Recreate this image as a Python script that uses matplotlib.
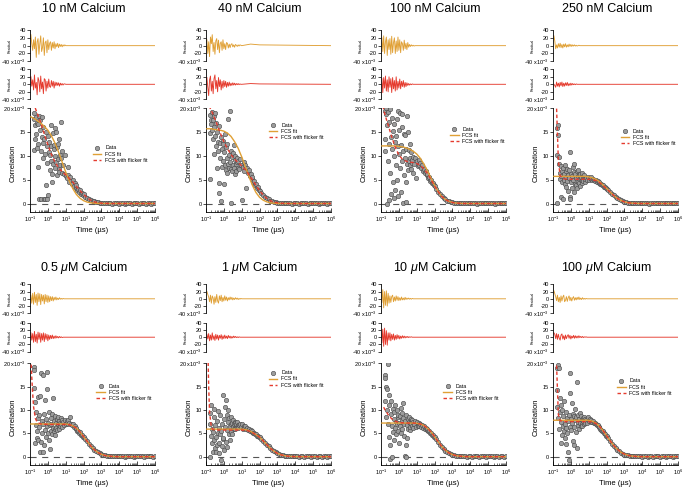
import numpy as np
import matplotlib.pyplot as plt
from matplotlib.lines import Line2D
from matplotlib.ticker import LogLocator, NullFormatter

plt.rcParams["font.family"] = ["Liberation Sans", "DejaVu Sans"]
plt.rcParams["mathtext.fontset"] = "custom"
plt.rcParams["mathtext.rm"] = "Liberation Sans"
plt.rcParams["mathtext.it"] = "Liberation Sans:italic"
plt.rcParams["mathtext.bf"] = "Liberation Sans:bold"

nan = float("nan")

# === x grids: log10 of lag time (us) ===
LAG_LOG = [
    -0.8, -0.775, -0.75, -0.725, -0.7,
    -0.675, -0.65, -0.625, -0.6, -0.575,
    -0.55, -0.525, -0.5, -0.475, -0.45,
    -0.425, -0.4, -0.375, -0.35, -0.325,
    -0.3, -0.275, -0.25, -0.225, -0.2,
    -0.175, -0.15, -0.125, -0.1, -0.075,
    -0.05, -0.025, 0.0, 0.025, 0.05,
    0.075, 0.1, 0.125, 0.15, 0.175,
    0.2, 0.225, 0.25, 0.275, 0.3,
    0.325, 0.35, 0.375, 0.4, 0.425,
    0.45, 0.475, 0.5, 0.525, 0.55,
    0.575, 0.6, 0.625, 0.65, 0.675,
    0.7, 0.725, 0.75, 0.775, 0.8,
    0.85, 0.9, 0.95, 1.0, 1.05, 1.1,
    1.15, 1.2, 1.25, 1.3, 1.35, 1.4,
    1.45, 1.5, 1.55, 1.6, 1.65, 1.7,
    1.75, 1.8, 1.85, 1.9, 1.95, 2.0,
    2.1, 2.2, 2.3, 2.4, 2.5, 2.6, 2.7, 2.8, 2.9, 3.0,
    3.1, 3.2, 3.3, 3.4, 3.5, 3.6, 3.7, 3.8, 3.9, 4.0,
    4.1, 4.2, 4.3, 4.4, 4.5, 4.6, 4.7, 4.8, 4.9, 5.0,
    5.1, 5.2, 5.3, 5.4, 5.5, 5.6, 5.7, 5.8, 5.9, 6.0,
]
FIT_LOG = [-0.95, -0.9, -0.85, -0.8, -0.7, -0.6, -0.4, -0.2, 0.0, 0.2, 0.4,
           0.6, 0.8, 1.0, 1.2, 1.4, 1.6, 1.8, 2.0, 2.2, 2.4, 2.6, 2.8, 3.0,
           3.2, 3.4, 3.6, 3.8, 4.0, 5.0, 6.0]
RES_LOG = [-0.95, -0.9, -0.85, -0.8, -0.75, -0.7, -0.65, -0.6, -0.55, -0.5,
           -0.45, -0.4, -0.35, -0.3, -0.25, -0.2, -0.15, -0.1, -0.05, 0.0,
           0.05, 0.1, 0.15, 0.2, 0.25, 0.3, 0.35, 0.4, 0.45, 0.5,
           0.55, 0.6, 0.65, 0.7, 0.75, 0.8, 0.85, 0.9, 0.95, 1.0,
           1.5, 2.0, 6.0]

TITLES = ["10 nM Calcium", "40 nM Calcium", "100 nM Calcium", "250 nM Calcium",
          "0.5 $\\mu$M Calcium", "1 $\\mu$M Calcium", "10 $\\mu$M Calcium",
          "100 $\\mu$M Calcium"]

# === correlation data (x1e-3) ===
D_10NM = [
    11.2, 17.8, 19.0, 13.6, 16.5, 14.7, 18.1, 11.7, 17.0, 7.7,
    16.8, 12.5, 18.3, 1.0, 15.5, 17.5, 11.0, 1.0, 18.1, 14.0,
    12.8, 16.0, 9.5, 1.0, 13.5, 10.5, 1.0, 15.0, 3.9, 12.0,
    1.0, 8.5, 1.8, 14.2, 10.8, 13.0, 7.0, 10.1, 16.5, 9.0,
    12.0, 6.2, 4.6, 14.8, 8.2, 11.5, 12.2, 7.5, 15.8, 10.0,
    15.0, 8.8, 11.8, 6.0, 9.4, 12.5, 7.2, 13.6, 6.7, 10.2,
    8.0, 17.2, 9.5, 6.4, 11.0,
    8.1, 6.2, 10.1, 5.8, 5.3, 7.6, 6.0, 4.6, 5.6, 4.8, 4.0, 5.0,
    3.7, 4.3, 3.2, 3.8, 2.9, 3.1, 2.4, 2.8, 2.1, 2.3, 1.7, 1.9,
    1.4, 1.2, 0.9, 0.8, 0.55, 0.45, 0.3, 0.3, 0.2, 0.15,
    0.1, 0.15, 0.05, 0.1, 0.1, 0.0, 0.1, 0.05, 0.1, 0.0,
    0.1, 0.05, 0.0, 0.1, 0.05, 0.1, 0.0, 0.05, 0.1, 0.05,
    0.0, 0.1, 0.05, 0.1, 0.0, 0.05, 0.1, 0.0, 0.05, 0.1,
]
D_40NM = [
    5.1, 18.5, 14.8, 17.6, 16.8, 19.2, 15.5, 17.5, 13.6, 18.3,
    16.0, 10.5, 19.0, 14.2, 12.0, 17.0, 7.5, 15.0, 13.0, 11.0,
    4.4, 16.2, 2.3, 12.8, 9.5, 14.0, 0.6, 11.5, 7.7, 13.2,
    9.0, 12.5, 4.0, 10.8, 8.0, 14.5, 7.0, 11.8, 9.6, 6.5,
    12.4, 8.4, 17.8, 7.5, 10.2, 19.5, 8.8, 0.2, 11.0, 7.3,
    9.8, 6.8, 10.7, 8.0, 12.2, 7.5, 9.1, 6.3, 10.0, 8.2,
    6.9, 8.7, 9.5, 7.4, 8.9,
    7.2, 9.3, 8.0, 0.7, 7.6, 8.8, 6.9, 8.1, 3.2, 7.5, 6.4, 7.0,
    5.8, 6.3, 5.2, 5.5, 4.6, 4.7, 3.9, 4.1, 3.3, 3.4, 2.9, 2.7,
    2.2, 1.8, 1.4, 1.1, 0.85, 0.6, 0.45, 0.35, 0.25, 0.2,
    0.15, 0.1, 0.1, 0.05, 0.1, 0.05, 0.1, 0.0, 0.1, 0.05,
    0.1, 0.0, 0.05, 0.1, 0.05, 0.1, 0.0, 0.1, 0.05, 0.1,
    0.05, 0.1, 0.0, 0.1, 0.05, 0.1, 0.05, 0.0, 0.1, 0.05,
]
D_100NM = [
    13.5, 19.5, 11.0, 18.8, 20.0, 0.0, 16.5, 9.0, 19.3, 12.5,
    0.7, 17.2, 19.9, 6.5, 14.0, 2.1, 11.5, 18.0, 4.6, 15.2,
    16.7, 1.1, 10.0, 13.0, 2.8, 14.2, 8.0, 17.7, 5.0, 12.0,
    19.5, 1.5, 10.5, 15.5, 7.5, 19.1, 2.5, 12.3, 9.0, 16.0,
    18.8, 0.1, 11.0, 14.5, 6.0, 9.5, 14.3, 0.4, 11.5, 4.6,
    18.3, 8.3, 15.0, 7.0, 11.2, 9.0, 12.5, 8.0, 9.6, 7.2,
    10.8, 8.5, 9.2, 6.5, 9.7,
    8.4, 9.6, 5.3, 8.9, 7.8, 9.2, 8.0, 8.6, 7.4, 8.0, 6.9, 7.3,
    6.5, 6.9, 5.9, 6.2, 5.4, 5.6, 4.8, 5.0, 4.3, 4.4, 3.8, 3.7,
    3.0, 2.5, 2.0, 1.5, 1.15, 0.85, 0.6, 0.45, 0.3, 0.22,
    0.2, 0.15, 0.1, 0.15, 0.1, 0.05, 0.1, 0.1, 0.05, 0.1,
    0.1, 0.05, 0.1, 0.0, 0.1, 0.05, 0.1, 0.1, 0.05, 0.1,
    0.05, 0.1, 0.1, 0.0, 0.1, 0.05, 0.1, 0.05, 0.1, 0.1,
]
D_250NM = [
    0.1, 10.2, 15.8, 14.4, 16.5, 9.8, 8.4, 5.2, 6.5, 7.9,
    1.4, 5.8, 4.6, 6.9, 1.0, 7.4, 5.0, 6.3, 4.2, 8.0,
    5.5, 3.5, 6.8, 4.8, 7.2, 6.0, 2.6, 7.0, 5.3, 1.4,
    1.0, 10.9, 4.5, 6.2, 5.7, 3.3, 7.7, 5.0, 6.6, 2.5,
    8.4, 4.1, 6.3, 3.9, 5.4, 6.9, 3.2, 5.8, 4.6, 7.0,
    4.4, 5.9, 3.6, 6.1, 5.0, 5.5, 4.3, 6.4, 4.9, 5.3,
    4.7, 5.6, 6.0, 4.5, 5.2,
    5.4, 4.9, 5.6, 5.0, 5.3, 5.1, 5.5, 4.9, 5.2, 5.0, 4.8, 5.0,
    4.6, 4.8, 4.4, 4.5, 4.1, 4.2, 3.8, 3.9, 3.5, 3.5, 3.2, 3.1,
    2.8, 2.4, 2.0, 1.7, 1.35, 1.1, 0.85, 0.65, 0.5, 0.35,
    0.3, 0.2, 0.15, 0.15, 0.1, 0.05, 0.1, 0.05, 0.1, 0.05,
    0.1, 0.05, 0.1, 0.0, 0.1, 0.05, 0.1, 0.05, 0.1, 0.05,
    0.05, 0.1, 0.1, 0.05, 0.1, 0.1, 0.05, 0.1, 0.05, 0.1,
]
D_05UM = [
    19.3, 18.6, 14.8, 11.8, 2.9, 9.6, 6.8, 4.0, 5.5, 8.2,
    12.8, 3.5, 6.3, 9.0, 1.0, 13.0, 3.2, 17.9, 5.0, 7.6,
    17.5, 1.1, 6.9, 2.6, 9.2, 12.1, 5.8, 8.0, 4.2, 6.5,
    18.2, 14.6, 7.2, 5.1, 9.5, 3.6, 6.7, 1.6, 8.3, 5.5,
    7.0, 4.8, 9.1, 6.2, 12.5, 5.4, 7.6, 6.0, 8.8, 4.6,
    7.3, 6.1, 8.0, 5.7, 6.9, 8.5, 6.4, 7.7, 5.9, 7.2,
    6.6, 8.2, 7.0, 7.9, 6.3,
    7.4, 6.8, 7.9, 7.1, 7.6, 6.9, 7.8, 7.2, 8.6, 7.0, 6.7, 6.9,
    6.4, 6.5, 6.0, 6.1, 5.6, 5.6, 5.1, 5.2, 4.7, 4.7, 4.3, 4.2,
    3.7, 3.3, 2.8, 2.3, 1.9, 1.5, 1.2, 0.9, 0.7, 0.5,
    0.38, 0.28, 0.2, 0.15, 0.12, 0.1, 0.05, 0.1, 0.05, 0.1,
    0.05, 0.1, 0.0, 0.1, 0.05, 0.1, 0.05, 0.0, 0.1, 0.05,
    0.1, 0.05, 0.1, 0.0, 0.05, 0.1, 0.05, 0.1, 0.0, 0.05,
]
D_1UM = [
    9.3, 7.1, 0.0, 11.1, 4.5, 6.0, 2.9, 1.1, 5.2, 8.4,
    3.6, 10.2, 1.8, 6.8, 4.3, 1.1, 7.6, 2.5, 5.0, 9.8,
    3.0, 6.2, 0.8, 8.9, 4.8, -0.7, 5.5, 2.2, 7.0, 3.7,
    13.2, 4.1, 8.0, 1.4, 10.7, 6.3, 12.1, 3.2, 5.7, 9.0,
    2.1, 7.4, 10.0, 4.9, 8.2, 6.6, 3.5, 7.1, 5.2, 8.6,
    7.3, 4.8, 6.4, 7.8, 5.9, 6.9, 7.5, 6.0, 7.2, 6.5,
    7.0, 6.3, 7.4, 6.8, 6.1,
    6.7, 7.1, 6.3, 6.9, 6.0, 6.6, 6.2, 6.5, 5.9, 6.2, 5.8, 6.0,
    5.6, 5.7, 5.3, 5.4, 5.1, 5.0, 4.8, 4.8, 4.5, 4.5, 4.2, 4.2,
    3.8, 3.4, 3.0, 2.6, 2.2, 1.8, 1.5, 1.2, 0.95, 0.7,
    0.55, 0.4, 0.3, 0.2, 0.15, 0.1, 0.1, 0.05, 0.05, 0.1,
    0.1, 0.0, 0.05, 0.1, 0.0, 0.05, 0.1, 0.05, 0.0, 0.1,
    0.05, 0.0, 0.1, 0.05, 0.0, 0.1, 0.05, 0.0, 0.05, 0.1,
]
D_10UM = [
    17.5, 16.8, 12.0, 8.5, 15.0, 10.0, 14.6, 7.0, 19.8, 13.2,
    4.3, 11.1, 2.5, -0.6, 9.2, 12.0, 6.5, 0.0, 10.2, 5.3,
    8.0, 3.6, 9.6, 6.2, 11.0, 7.4, 4.8, 10.0, 6.9, 8.5,
    5.6, 9.0, 7.2, 3.0, 8.8, 6.5, 10.5, 5.0, 7.9, 9.3,
    6.0, 11.4, 8.2, 4.4, 7.0, 0.1, 7.6, 0.0, 9.0, 2.5,
    6.8, 3.9, 8.1, 6.0, 7.5, 8.6, 5.8, 7.3, 6.4, 8.0,
    7.1, 6.5, 7.8, 6.2, 7.4,
    6.9, 7.7, 6.3, 7.4, 6.6, 7.2, 6.5, 7.0, 6.4, 6.8, 6.2, 6.5,
    6.0, 6.2, 5.8, 5.9, 5.5, 5.5, 5.1, 5.1, 4.7, 4.7, 4.3, 4.2,
    3.7, 3.1, 2.6, 2.1, 1.7, 1.3, 1.0, 0.75, 0.55, 0.4,
    0.3, 0.2, 0.15, 0.1, 0.1, 0.05, 0.1, 0.0, 0.1, 0.05,
    0.0, 0.1, 0.05, 0.1, 0.0, 0.05, 0.1, 0.05, 0.0, 0.1,
    0.05, 0.1, 0.0, 0.05, 0.1, 0.0, 0.05, 0.1, 0.0, 0.05,
]
D_100UM = [
    14.3, 10.7, 19.0, 8.2, 19.6, 6.0, 18.9, 12.5, 9.5, 3.0,
    11.0, 7.4, 4.6, 10.0, 6.5, 8.8, 5.4, 12.0, 3.9, 7.0,
    9.5, 6.1, 2.8, 8.3, 5.0, 7.6, 1.1, 9.0, -0.7, 6.4,
    17.9, 13.6, 8.0, 5.7, 11.5, 7.2, 3.4, 9.2, 6.3, 8.7,
    2.5, 7.9, 10.3, 5.2, 8.4, 1.8, 16.1, 6.8, 9.0, 7.5,
    8.1, 5.9, 9.3, 7.2, 6.6, 8.8, 7.0, 7.9, 6.5, 8.3,
    7.6, 8.5, 7.1, 8.0, 7.3,
    7.9, 7.3, 8.4, 7.6, 8.1, 7.4, 7.9, 7.5, 7.7, 7.2, 7.3, 7.0,
    6.8, 6.7, 6.4, 6.3, 6.0, 5.8, 5.5, 5.4, 5.0, 4.9, 4.5, 4.4,
    3.9, 3.3, 2.8, 2.3, 1.9, 1.5, 1.15, 0.85, 0.65, 0.45,
    0.35, 0.25, 0.18, 0.12, 0.1, 0.05, 0.1, 0.05, 0.1, 0.0,
    0.05, 0.1, 0.0, 0.1, 0.05, 0.0, 0.1, 0.05, 0.1, 0.0,
    0.1, 0.05, 0.0, 0.1, 0.05, 0.1, 0.0, 0.05, 0.1, 0.05,
]

# === FCS fit (orange) and FCS-with-flicker fit (red), on FIT_LOG ===
FCS_10NM = [18.2, 18.1, 18.0, 17.9, 17.7, 17.4, 16.9, 16.2, 15.4, 14.2, 12.7,
            10.8, 8.7, 6.6, 4.7, 3.1, 1.9, 1.1, 0.6, 0.3, 0.15, 0.07, 0.03, 0.01,
            0, 0, 0, 0, 0, 0, 0]
FLK_10NM = [25.0, 24.0, 23.0, 21.5, 20.0, 19.0, 17.0, 14.6, 12.3, 10.3, 8.7,
            7.5, 6.7, 6.0, 5.3, 4.5, 3.6, 2.7, 1.9, 1.2, 0.7, 0.35, 0.17, 0.07,
            0.03, 0.01, 0, 0, 0, 0, 0]
FCS_40NM = [15.7, 15.7, 15.7, 15.7, 15.7, 15.6, 15.5, 15.4, 15.2, 14.8, 14.1,
            13.0, 11.6, 9.8, 7.8, 5.7, 3.8, 2.3, 1.3, 0.7, 0.35, 0.15, 0.06, 0.02,
            0, 0, 0, 0, 0, 0, 0]
FLK_40NM = [23.0, 22.0, 21.0, 20.3, 19.5, 18.7, 16.8, 14.8, 13.0, 11.5, 10.3,
            9.3, 8.6, 7.9, 7.1, 6.1, 5.0, 3.8, 2.7, 1.8, 1.1, 0.6, 0.3, 0.15,
            0.06, 0.02, 0, 0, 0, 0, 0]
FCS_100NM = [12.1, 12.1, 12.1, 12.1, 12.1, 12.1, 12.1, 12.1, 12.0, 11.9, 11.7,
             11.4, 11.0, 10.4, 9.5, 8.3, 6.9, 5.3, 3.8, 2.5, 1.5, 0.85, 0.45, 0.22,
             0.1, 0.04, 0.01, 0, 0, 0, 0]
FLK_100NM = [nan, 20.5, 19.8, 19.0, 17.7, 16.5, 14.0, 11.8, 10.2, 9.3, 8.9,
             8.7, 8.6, 8.4, 8.0, 7.3, 6.3, 5.0, 3.7, 2.5, 1.5, 0.85, 0.45, 0.22,
             0.1, 0.04, 0.01, 0, 0, 0, 0]
FCS_250NM = [5.7, 5.7, 5.7, 5.7, 5.7, 5.7, 5.7, 5.7, 5.7, 5.7, 5.7,
             5.7, 5.7, 5.6, 5.4, 5.1, 4.6, 3.9, 3.2, 2.4, 1.7, 1.1, 0.65, 0.35,
             0.17, 0.08, 0.03, 0.01, 0, 0, 0]
FLK_250NM = [nan, nan, 40.0, 20.0, 9.0, 5.8, 5.2, 5.1, 5.1, 5.1, 5.1,
             5.1, 5.1, 5.1, 5.0, 4.8, 4.4, 3.8, 3.1, 2.4, 1.7, 1.1, 0.65, 0.35,
             0.17, 0.08, 0.03, 0.01, 0, 0, 0]
FCS_05UM = [7.0, 7.0, 7.0, 7.0, 7.0, 7.0, 7.0, 7.0, 7.0, 7.0, 7.0,
            7.0, 7.0, 7.0, 6.9, 6.6, 6.1, 5.3, 4.3, 3.3, 2.3, 1.5, 0.9, 0.5,
            0.25, 0.12, 0.05, 0.02, 0, 0, 0]
FLK_05UM = [21.0, 17.0, 13.5, 10.7, 8.2, 7.4, 7.0, 6.95, 6.9, 6.9, 6.9,
            6.9, 6.9, 6.9, 6.85, 6.6, 6.1, 5.3, 4.3, 3.3, 2.3, 1.5, 0.9, 0.5,
            0.25, 0.12, 0.05, 0.02, 0, 0, 0]
FCS_1UM = [5.9, 5.9, 5.9, 5.9, 5.9, 5.9, 5.9, 5.9, 5.9, 5.9, 5.9,
           5.9, 5.9, 5.9, 5.8, 5.6, 5.2, 4.7, 4.2, 3.4, 2.6, 1.8, 1.2, 0.7,
           0.4, 0.2, 0.09, 0.04, 0.01, 0, 0]
FLK_1UM = [nan, 24.0, 15.0, 9.5, 6.3, 5.8, 5.7, 5.7, 5.7, 5.7, 5.7,
           5.7, 5.7, 5.7, 5.65, 5.5, 5.15, 4.7, 4.2, 3.4, 2.6, 1.8, 1.2, 0.7,
           0.4, 0.2, 0.09, 0.04, 0.01, 0, 0]
FCS_10UM = [7.2, 7.2, 7.2, 7.2, 7.2, 7.2, 7.2, 7.2, 7.2, 7.2, 7.2,
            7.2, 7.2, 7.15, 7.0, 6.7, 6.1, 5.3, 4.3, 3.2, 2.2, 1.4, 0.8, 0.45,
            0.22, 0.1, 0.04, 0.01, 0, 0, 0]
FLK_10UM = [nan, nan, 10.6, 10.2, 9.6, 9.0, 8.1, 7.6, 7.35, 7.25, 7.2,
            7.2, 7.2, 7.15, 7.0, 6.7, 6.1, 5.3, 4.3, 3.2, 2.2, 1.4, 0.8, 0.45,
            0.22, 0.1, 0.04, 0.01, 0, 0, 0]
FCS_100UM = [7.8, 7.8, 7.8, 7.8, 7.8, 7.8, 7.8, 7.8, 7.8, 7.8, 7.8,
             7.8, 7.8, 7.8, 7.6, 7.2, 6.5, 5.6, 4.5, 3.4, 2.4, 1.6, 0.95, 0.55,
             0.28, 0.13, 0.06, 0.02, 0, 0, 0]
FLK_100UM = [nan, nan, 40.0, 19.6, 9.0, 7.7, 7.5, 7.5, 7.5, 7.5, 7.5,
             7.5, 7.5, 7.5, 7.4, 7.1, 6.5, 5.6, 4.5, 3.4, 2.4, 1.6, 0.95, 0.55,
             0.28, 0.13, 0.06, 0.02, 0, 0, 0]

# === residuals (x1e-3) on RES_LOG: FCS fit (orange) / flicker fit (red) ===
RF_10NM = [28, 5, -12, 15, -8, 22, -30, 10, 18, -22, 5, 25, -15, -5, 20, -25, 8, 12,
           -18, 15, -10, 6, 10, -12, 8, -6, 10, -8, 5, -3, 6, -5, 4, -2, 3, -3, 2,
           -1, 2, 0, 0, 0, 0]
RR_10NM = [20, -5, 12, -15, 25, -10, 5, -28, 18, 10, -20, 22, -12, 6, -25, 15, 12,
           -18, 8, -10, 14, -6, -8, 10, -5, 8, -10, 6, -4, 5, -3, 4, -5, 3, -2, 2,
           -2, 1, 1, 0, 0, 0, 0]
RF_40NM = [15, -20, 10, -28, 22, 5, 28, -15, 8, -22, 12, 18, -10, 14, -18, 6, 10,
           -12, 15, -8, 5, -10, 8, 6, -6, 4, -5, 3, 5, -3, 2, -4, 3, 1, -2, 2, -1,
           2, 1, 0, 4, 2, 0]
RR_40NM = [18, -8, -30, 12, 22, -18, 8, -25, 15, 25, -12, 10, -20, 18, -6, 12, -15,
           8, -10, 10, -6, 8, -8, 5, -5, 6, -4, 3, -3, 4, -2, 3, -2, 2, -1, 2, -1,
           1, 0, 0, 2, 1, 0]
RF_100NM = [20, -15, 25, -20, 10, 22, -25, 15, -10, 18, -22, 24, -18, 8, 20, -20,
            12, -15, 22, -12, 15, -18, 10, 5, -12, 14, -8, 6, -10, 8, -4, 3, -2, 2,
            -1, 1, -1, 0, 0, 0, 0, 0, 0]
RR_100NM = [15, -22, 18, -10, 22, -18, 12, -20, 20, -8, 15, -22, 18, -12, 10, -18,
            20, -15, 8, -10, 14, -12, 8, -6, 10, -8, 5, -6, 4, -3, 2, -2, 1, -1, 1,
            0, 0, 0, 0, 0, 0, 0, 0]
RF_250NM = [25, 12, -8, 2, -6, 5, -4, 6, -5, 3, -6, 4, -3, 5, -4, 2, -3, 4, -2, 3,
            -2, 2, -1, 2, -1, 1, -1, 0, 1, 0, 0, 0, 0, 0, 0, 0, 0, 0, 0, 0, 0, 0, 0]
RR_250NM = [0, -3, -8, 6, -5, 3, -7, 5, -4, 6, -6, 3, -5, 4, -3, 5, -4, 2, -3, 3,
            -2, 2, -1, 1, -1, 1, 0, 0, 0, 0, 0, 0, 0, 0, 0, 0, 0, 0, 0, 0, 0, 0, 0]
RF_05UM = [10, -12, 15, -15, 18, -10, 12, -18, 16, -8, 14, -16, 12, -6, 10, -14, 12,
           -8, 10, -10, 8, -8, 6, -5, 6, -6, 4, -3, 5, -3, 2, -2, 3, -1, 1, -1, 1,
           0, 0, 0, 0, 0, 0]
RR_05UM = [12, -8, 10, -14, 16, -12, 8, -16, 14, -6, 12, -14, 10, -8, 12, -12, 10,
           -6, 8, -10, 6, -6, 5, -4, 6, -4, 3, -3, 4, -2, 2, -2, 2, -1, 1, -1, 0,
           0, 0, 0, 0, 0, 0]
RF_1UM = [20, 12, 5, -8, 10, -12, 8, 2, -15, 6, -10, 12, -6, -12, 8, -5, 10, -8, 4,
          -6, 8, -4, 5, -6, 3, -3, 5, -2, 4, -3, 2, -2, 3, -1, 2, -2, 1, -1, 1, 0,
          0, 0, 0]
RR_1UM = [8, -5, 10, -10, 6, -8, 12, -6, 4, -9, 8, -5, 6, -8, 5, -3, 7, -6, 4, -4,
          6, -3, 3, -4, 5, -2, 3, -3, 2, -2, 3, -1, 2, -1, 1, -1, 1, 0, 0, 0, 0, 0, 0]
RF_10UM = [-10, 25, -25, 20, -18, 22, -20, 15, -12, 8, -10, 6, 10, -8, 5, -6, 8, -4,
           6, -5, 3, -4, 5, -3, 2, -3, 4, -2, 2, -1, 2, -1, 1, -1, 1, 0, 0, 0, 0,
           0, 0, 0, 0]
RR_10UM = [-15, 22, -25, 25, -20, 18, -22, 12, -8, 12, -10, 8, -6, 9, -8, 5, -6, 7,
           -4, 5, -5, 3, -3, 4, -2, 3, -2, 2, -1, 2, -1, 1, 0, 1, 0, 0, 0, 0, 0, 0,
           0, 0, 0]
RF_100UM = [22, 14, 6, -5, 10, -8, 4, -10, 8, -6, 5, 10, -8, -4, 6, -7, 3, 8, -5, 4,
            -6, 2, 6, -4, 3, -3, 4, -2, 5, -2, 2, -2, 3, -1, 1, -1, 1, 0, 0, 0, 0,
            0, 0]
RR_100UM = [12, 8, -4, 10, -6, 8, -3, -8, 6, 9, -5, 4, -7, 6, -4, 3, 7, -3, 5, -5,
            3, -2, 5, -3, 4, -2, 3, -2, 4, -1, 2, -1, 2, -1, 1, 0, 1, 0, 0, 0, 0, 0, 0]

DATA = [D_10NM, D_40NM, D_100NM, D_250NM, D_05UM, D_1UM, D_10UM, D_100UM]
FCS = [FCS_10NM, FCS_40NM, FCS_100NM, FCS_250NM, FCS_05UM, FCS_1UM, FCS_10UM, FCS_100UM]
FLK = [FLK_10NM, FLK_40NM, FLK_100NM, FLK_250NM, FLK_05UM, FLK_1UM, FLK_10UM, FLK_100UM]
RES_F = [RF_10NM, RF_40NM, RF_100NM, RF_250NM, RF_05UM, RF_1UM, RF_10UM, RF_100UM]
RES_R = [RR_10NM, RR_40NM, RR_100NM, RR_250NM, RR_05UM, RR_1UM, RR_10UM, RR_100UM]

# legend anchor (marker x, top y) in axes fraction
LEGEND_POS = [(0.54, 0.64), (0.54, 0.86), (0.59, 0.82), (0.576, 0.80),
              (0.568, 0.80), (0.54, 0.93), (0.535, 0.80), (0.55, 0.85)]

# === Style ===
ORANGE = "#E0A035"
RED = "#E53B2E"
GRAY = "#9C9C9C"
EDGE = "#454545"
DASH = "#555555"
TICK_FS = 4.0

W, H = 685, 488
COL_LEFT = [30, 206, 381, 553]
AX_W = 125.0
ROWS = [
    dict(title=11.7, r1=(30.0, 61.3), r2=(69.3, 99.3), main=(108.3, 211.6)),
    dict(title=270.5, r1=(284.3, 313.3), r2=(322.7, 351.7), main=(363.3, 464.6)),
]


def rect(x0, top, bottom):
    return [x0 / W, 1 - bottom / H, AX_W / W, (bottom - top) / H]


def draw_resid(ax, values, color):
    ax.plot(10 ** np.array(RES_LOG), values, color=color, lw=0.65)
    ax.set_xscale("log")
    ax.set_xlim(0.1, 1e6)
    ax.set_ylim(-40, 40)
    for s in ("top", "right", "bottom"):
        ax.spines[s].set_visible(False)
    ax.spines["left"].set_linewidth(0.6)
    ax.xaxis.set_visible(False)
    ax.set_yticks([-40, -20, 0, 20, 40])
    ax.set_yticklabels(["-40 x10$^{-3}$", "-20", "0", "20", "40"])
    ax.tick_params(axis="y", direction="out", length=2.0, width=0.5,
                   labelsize=TICK_FS, pad=1.0)
    ax.text(-0.165, 0.5, "Residual", transform=ax.transAxes, rotation=90,
            ha="center", va="center", fontsize=2.6)
    ax.patch.set_alpha(0)


def draw_main(ax, data, fcs, flk, leg):
    lag = 10 ** np.array(LAG_LOG)
    fit_t = 10 ** np.array(FIT_LOG)
    ax.axhline(0, color=DASH, lw=0.8, dashes=(5.5, 5), zorder=1)
    ax.plot(lag, data, ls="none", marker="o", ms=3.2, mfc=GRAY, mec=EDGE,
            mew=0.4, zorder=2)
    ax.plot(fit_t, fcs, color=ORANGE, lw=1.0, zorder=3)
    ax.plot(fit_t, flk, color=RED, lw=1.0, dashes=(2.5, 1.8), zorder=4)

    ax.set_xscale("log")
    ax.set_xlim(0.1, 1e6)
    ax.set_ylim(-1.7, 20)
    for s in ("top", "right"):
        ax.spines[s].set_visible(False)
    for s in ("left", "bottom"):
        ax.spines[s].set_linewidth(0.6)
    ax.set_yticks([0, 5, 10, 15, 20])
    ax.set_yticklabels(["0", "5", "10", "15", "20 x10$^{-3}$"])
    ax.xaxis.set_major_locator(LogLocator(base=10, numticks=20))
    ax.xaxis.set_minor_locator(LogLocator(base=10, subs=np.arange(2, 10), numticks=100))
    ax.xaxis.set_minor_formatter(NullFormatter())
    ax.tick_params(axis="y", direction="out", length=2.0, width=0.5,
                   labelsize=TICK_FS, pad=1.0)
    ax.tick_params(axis="x", which="major", direction="in", length=3, width=0.5,
                   labelsize=TICK_FS, pad=2.5)
    ax.tick_params(axis="x", which="minor", direction="in", length=1.5, width=0.4)
    ax.set_xlabel("Time (\u00b5s)", fontsize=5.5, labelpad=2)
    ax.text(-0.135, 0.47, "Correlation", transform=ax.transAxes, rotation=90,
            ha="center", va="center", fontsize=5.5)

    handles = [
        Line2D([], [], ls="none", marker="o", ms=3.2, mfc=GRAY, mec=EDGE, mew=0.4),
        Line2D([], [], color=ORANGE, lw=1.0),
        Line2D([], [], color=RED, lw=1.0, dashes=(2.5, 1.8)),
    ]
    ax.legend(handles, ["Data", "FCS fit", "FCS with flicker fit"],
              loc="upper left", bbox_to_anchor=(leg[0] - 0.036, leg[1]),
              fontsize=3.8, frameon=False, handlelength=1.6, handletextpad=0.7,
              labelspacing=0.2, borderpad=0, borderaxespad=0)


def main():
    fig = plt.figure(figsize=(W / 100, H / 100), dpi=100)
    for i in range(8):
        row = ROWS[i // 4]
        x0 = COL_LEFT[i % 4]
        ax1 = fig.add_axes(rect(x0, *row["r1"]))
        draw_resid(ax1, RES_F[i], ORANGE)
        ax2 = fig.add_axes(rect(x0, *row["r2"]))
        draw_resid(ax2, RES_R[i], RED)
        ax3 = fig.add_axes(rect(x0, *row["main"]))
        draw_main(ax3, DATA[i], FCS[i], FLK[i], LEGEND_POS[i])
        fig.text((x0 + AX_W / 2 - 8.5) / W, 1 - row["title"] / H, TITLES[i],
                 ha="center", va="baseline", fontsize=9)
    fig.savefig("out.png", dpi=100)


if __name__ == "__main__":
    main()
